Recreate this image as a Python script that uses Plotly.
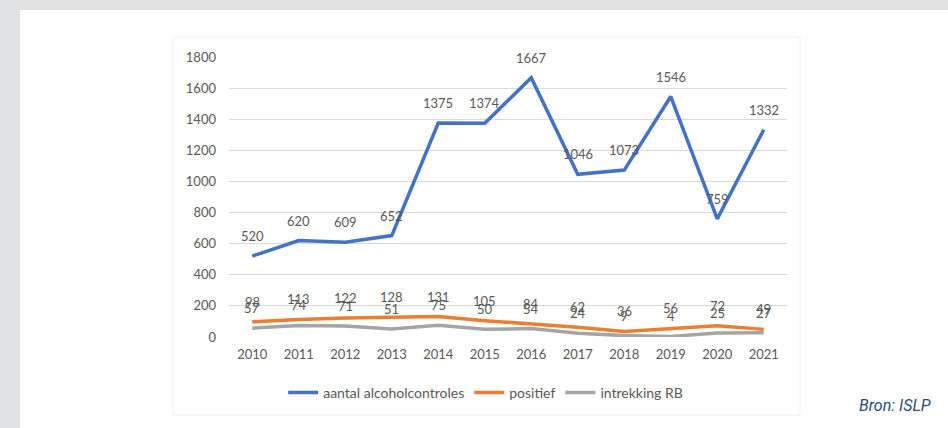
import plotly.graph_objects as go

years = ['2010', '2011', '2012', '2013', '2014', '2015', '2016', '2017', '2018', '2019', '2020', '2021']
controles = [520, 620, 609, 652, 1375, 1374, 1667, 1046, 1073, 1546, 759, 1332]
positief = [98, 113, 122, 128, 131, 105, 84, 62, 36, 56, 72, 49]
intrekking = [57, 74, 71, 51, 75, 50, 54, 24, 9, 4, 25, 27]

series = [
    ('aantal alcoholcontroles', controles, '#4472C4'),
    ('positief', positief, '#ED7D31'),
    ('intrekking RB', intrekking, '#A5A5A5'),
]

txt = '#595959'
font_family = 'Lato, Carlito, sans-serif'

fig = go.Figure()
annotations = []
for name, vals, col in series:
    fig.add_trace(go.Scatter(x=years, y=vals, name=name, mode='lines',
                             line=dict(color=col, width=3.5), hoverinfo='skip'))
    # data labels above each point (category index, since '2010' would be read as an index)
    for i, v in enumerate(vals):
        annotations.append(dict(x=i, y=v, text=str(v), showarrow=False, yshift=20,
                                font=dict(size=13, color=txt, family=font_family)))

annotations.append(dict(x=1.2616, y=-0.243, xref='paper', yref='paper', text='Bron: ISLP',
                        showarrow=False, xanchor='right', yanchor='middle',
                        font=dict(size=16, color='#2B4B80', family='Roboto, sans-serif',
                                  style='italic')))

shapes = [
    # white panel on the grey page
    dict(type='rect', xref='paper', yref='paper', x0=-0.3746, x1=1.3, y0=-0.34, y1=1.1679,
         fillcolor='white', line=dict(width=0), layer='below'),
    # faint frame around the pasted chart
    dict(type='rect', xref='paper', yref='paper', x0=-0.1004, x1=1.0233, y0=-0.2786, y1=1.0714,
         fillcolor='rgba(0,0,0,0)', line=dict(color='#F0F0F0', width=1), layer='below'),
]

fig.update_layout(
    width=948, height=428,
    margin=dict(l=229, r=161, t=57, b=91),
    paper_bgcolor='#E1E2E4',
    plot_bgcolor='white',
    font=dict(family=font_family, size=13, color=txt),
    xaxis=dict(type='category', range=[-0.5, 11.5], showgrid=False, showline=False,
               zeroline=False, ticks='', ticklabelstandoff=8, tickfont=dict(size=13, color=txt)),
    yaxis=dict(range=[0, 1800], dtick=200, showgrid=True, gridcolor='#D9D9D9', gridwidth=1,
               zeroline=False, showline=False, ticks='', ticklabelstandoff=12,
               tickfont=dict(size=13, color=txt)),
    legend=dict(orientation='h', x=0.46, y=-0.2, xanchor='center', yanchor='middle',
                font=dict(size=14, color=txt), bgcolor='rgba(0,0,0,0)', itemwidth=30),
    annotations=annotations,
    shapes=shapes,
    hovermode=False,
)

# drop the default 8px body margin so the figure sits at the window's corner
fig.write_html('out.html', config={'displayModeBar': False},
               post_script="document.body.style.margin='0';")
